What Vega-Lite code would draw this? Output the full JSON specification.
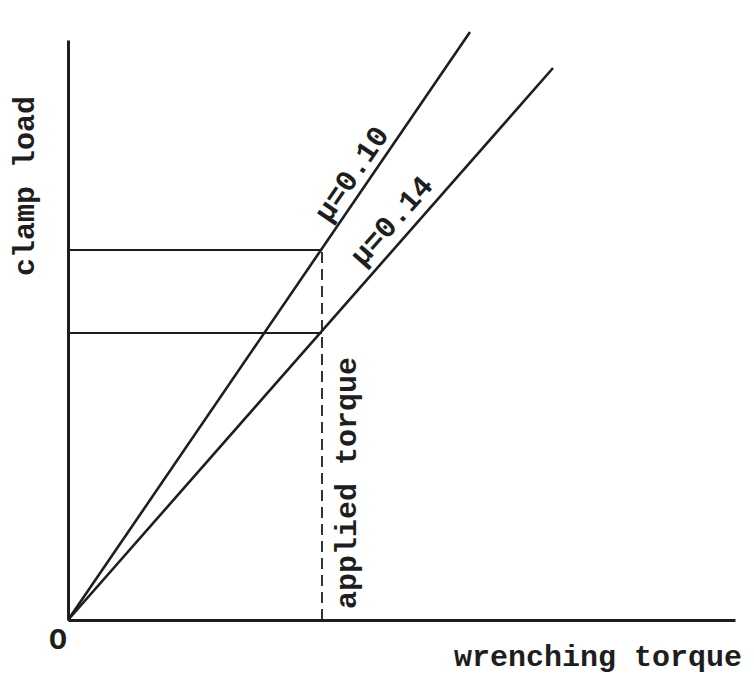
{
  "$schema": "https://vega.github.io/schema/vega-lite/v6.json",
  "autosize": "none",
  "width": 667,
  "height": 580,
  "padding": {"left": 68, "top": 40, "right": 19, "bottom": 56},
  "background": "white",
  "config": {"view": {"stroke": null}},
  "layer": [
    {
      "data": {"values": [
        {"curve": "mu=0.10", "x": 0, "y": 0, "x2": 402, "y2": 588},
        {"curve": "mu=0.14", "x": 0, "y": 0, "x2": 485, "y2": 552}
      ]},
      "mark": {"type": "rule", "color": "#1e1e1e", "strokeWidth": 2.6, "clip": false},
      "encoding": {
        "x": {"field": "x", "type": "quantitative", "scale": {"domain": [0, 667], "nice": false, "zero": false},
              "axis": {"domain": true, "domainColor": "#1e1e1e", "domainWidth": 3, "labels": false, "ticks": false, "grid": false, "title": null}},
        "y": {"field": "y", "type": "quantitative", "scale": {"domain": [0, 580], "nice": false, "zero": false},
              "axis": {"domain": true, "domainColor": "#1e1e1e", "domainWidth": 3, "labels": false, "ticks": false, "grid": false, "title": null}},
        "x2": {"field": "x2"},
        "y2": {"field": "y2"}
      }
    },
    {
      "data": {"values": [
        {"level": "mu=0.10", "x": 0, "y": 370, "x2": 254, "y2": 370},
        {"level": "mu=0.14", "x": 0, "y": 287, "x2": 254, "y2": 287}
      ]},
      "mark": {"type": "rule", "color": "#1e1e1e", "strokeWidth": 2},
      "encoding": {
        "x": {"field": "x", "type": "quantitative"},
        "y": {"field": "y", "type": "quantitative"},
        "x2": {"field": "x2"},
        "y2": {"field": "y2"}
      }
    },
    {
      "data": {"values": [
        {"what": "applied torque", "x": 254, "y": 0, "x2": 254, "y2": 370}
      ]},
      "mark": {"type": "rule", "color": "#1e1e1e", "strokeWidth": 1.8, "strokeDash": [11, 6]},
      "encoding": {
        "x": {"field": "x", "type": "quantitative"},
        "y": {"field": "y", "type": "quantitative"},
        "x2": {"field": "x2"},
        "y2": {"field": "y2"}
      }
    },
    {
      "data": {"values": [
        {"label": "wrenching torque", "x": 530, "y": -37},
        {"label": "O", "x": -10, "y": -20}
      ]},
      "mark": {"type": "text", "font": "Liberation Mono", "fontSize": 30, "fontWeight": "bold", "color": "#1e1e1e", "align": "center", "baseline": "middle", "clip": false},
      "encoding": {
        "x": {"field": "x", "type": "quantitative"},
        "y": {"field": "y", "type": "quantitative"},
        "text": {"field": "label"}
      }
    },
    {
      "data": {"values": [
        {"label": "clamp load", "x": -43, "y": 434},
        {"label": "applied torque", "x": 279, "y": 137}
      ]},
      "mark": {"type": "text", "font": "Liberation Mono", "fontSize": 30, "fontWeight": "bold", "color": "#1e1e1e", "align": "center", "baseline": "middle", "angle": 270, "clip": false},
      "encoding": {
        "x": {"field": "x", "type": "quantitative"},
        "y": {"field": "y", "type": "quantitative"},
        "text": {"field": "label"}
      }
    },
    {
      "data": {"values": [
        {"label": "μ=0.10", "x": 284, "y": 446}
      ]},
      "mark": {"type": "text", "font": "Liberation Mono", "fontSize": 30, "fontWeight": "bold", "color": "#1e1e1e", "align": "center", "baseline": "middle", "angle": 304.4, "clip": false},
      "encoding": {
        "x": {"field": "x", "type": "quantitative"},
        "y": {"field": "y", "type": "quantitative"},
        "text": {"field": "label"}
      }
    },
    {
      "data": {"values": [
        {"label": "μ=0.14", "x": 324, "y": 399}
      ]},
      "mark": {"type": "text", "font": "Liberation Mono", "fontSize": 30, "fontWeight": "bold", "color": "#1e1e1e", "align": "center", "baseline": "middle", "angle": 311.3, "clip": false},
      "encoding": {
        "x": {"field": "x", "type": "quantitative"},
        "y": {"field": "y", "type": "quantitative"},
        "text": {"field": "label"}
      }
    }
  ]
}
